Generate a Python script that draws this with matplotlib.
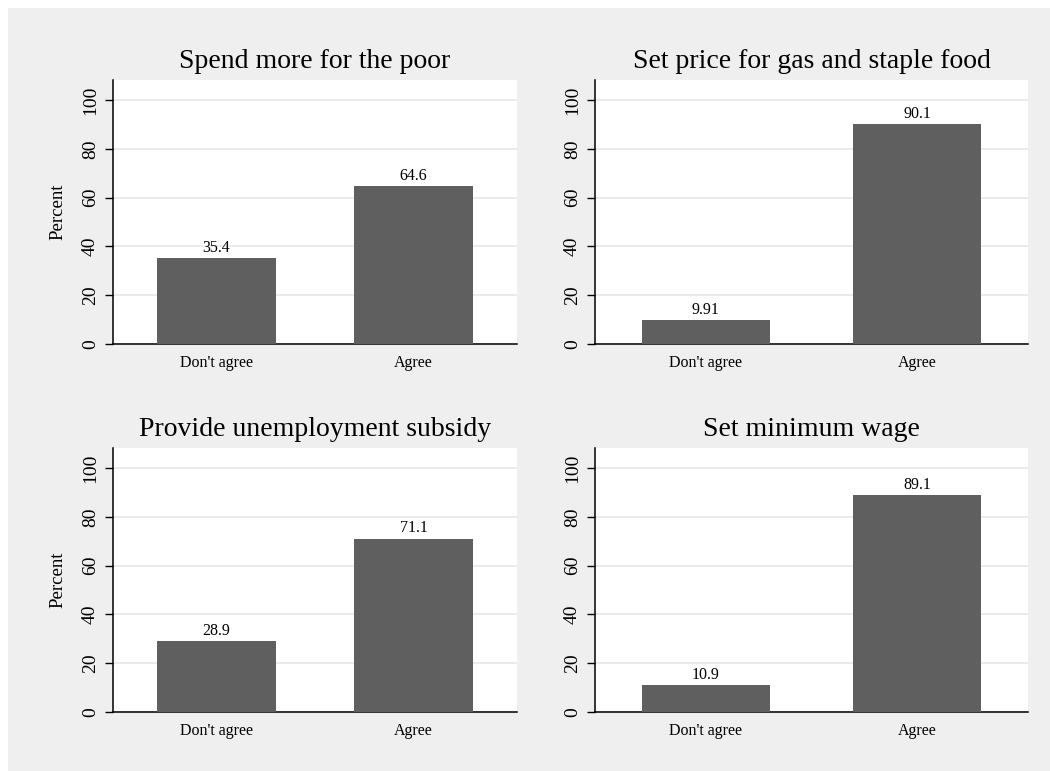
import matplotlib
matplotlib.use("Agg")
import matplotlib.pyplot as plt
from matplotlib.patches import Rectangle

titles = ["Spend more for the poor", "Set price for gas and staple food",
          "Provide unemployment subsidy", "Set minimum wage"]
categories = ["Don't agree", "Agree"]
dont_agree = [35.4, 9.91, 28.9, 10.9]
agree = [64.6, 90.1, 71.1, 89.1]
value_labels_dont = ["35.4", "9.91", "28.9", "10.9"]
value_labels_agree = ["64.6", "90.1", "71.1", "89.1"]
yticks = [0, 20, 40, 60, 80, 100]

plt.rcParams['font.family'] = ['Liberation Serif', 'DejaVu Serif']

W, H = 1050, 771
fig = plt.figure(figsize=(W / 100, H / 100), dpi=100)
fig.patch.set_facecolor('white')
fig.patches.append(Rectangle((8 / W, 0), 1 - 8 / W, 1 - 8 / H, transform=fig.transFigure,
                             facecolor='#EFEFEF', edgecolor='none', zorder=-10))

boxes = [(113, 517, 80, 344), (595, 1028, 80, 344),
         (113, 517, 448, 712), (595, 1028, 448, 712)]
bar_color = '#5F5F5F'

for i, (x0, x1, y0, y1) in enumerate(boxes):
    ax = fig.add_axes([x0 / W, (H - y1) / H, (x1 - x0) / W, (y1 - y0) / H])
    ax.set_facecolor('white')
    vals = [dont_agree[i], agree[i]]
    labs = [value_labels_dont[i], value_labels_agree[i]]
    bars = ax.bar([0, 1], vals, width=0.605, color=bar_color, zorder=3)
    for b, lab in zip(bars, labs):
        ax.annotate(lab, (b.get_x() + b.get_width() / 2, b.get_height()),
                    xytext=(0, 1.5), textcoords='offset points',
                    ha='center', va='bottom', fontsize=11.5)
    ax.set_xlim(-0.525, 1.525)
    ax.set_ylim(0, 108.2)
    ax.set_yticks(yticks)
    ax.set_xticks([0, 1])
    ax.set_xticklabels(categories, fontsize=11.5)
    ax.tick_params(axis='x', length=0, pad=8)
    ax.tick_params(axis='y', length=6, width=1, pad=4, labelsize=14, labelrotation=90)
    for t in ax.get_yticklabels():
        t.set_va('center')
    ax.yaxis.grid(True, color='#E8E8E8', lw=1.2)
    ax.set_axisbelow(True)
    for s in ['top', 'right']:
        ax.spines[s].set_visible(False)
    for s in ['left', 'bottom']:
        ax.spines[s].set_linewidth(1.1)
        ax.spines[s].set_color('black')
    ax.set_title(titles[i], fontsize=20, pad=9)
    if i % 2 == 0:
        ax.text((58 - x0) / (x1 - x0), 0.5, "Percent", transform=ax.transAxes,
                rotation=90, ha='center', va='center', fontsize=13.5)

fig.savefig("out.png", dpi=100, facecolor=fig.get_facecolor())
